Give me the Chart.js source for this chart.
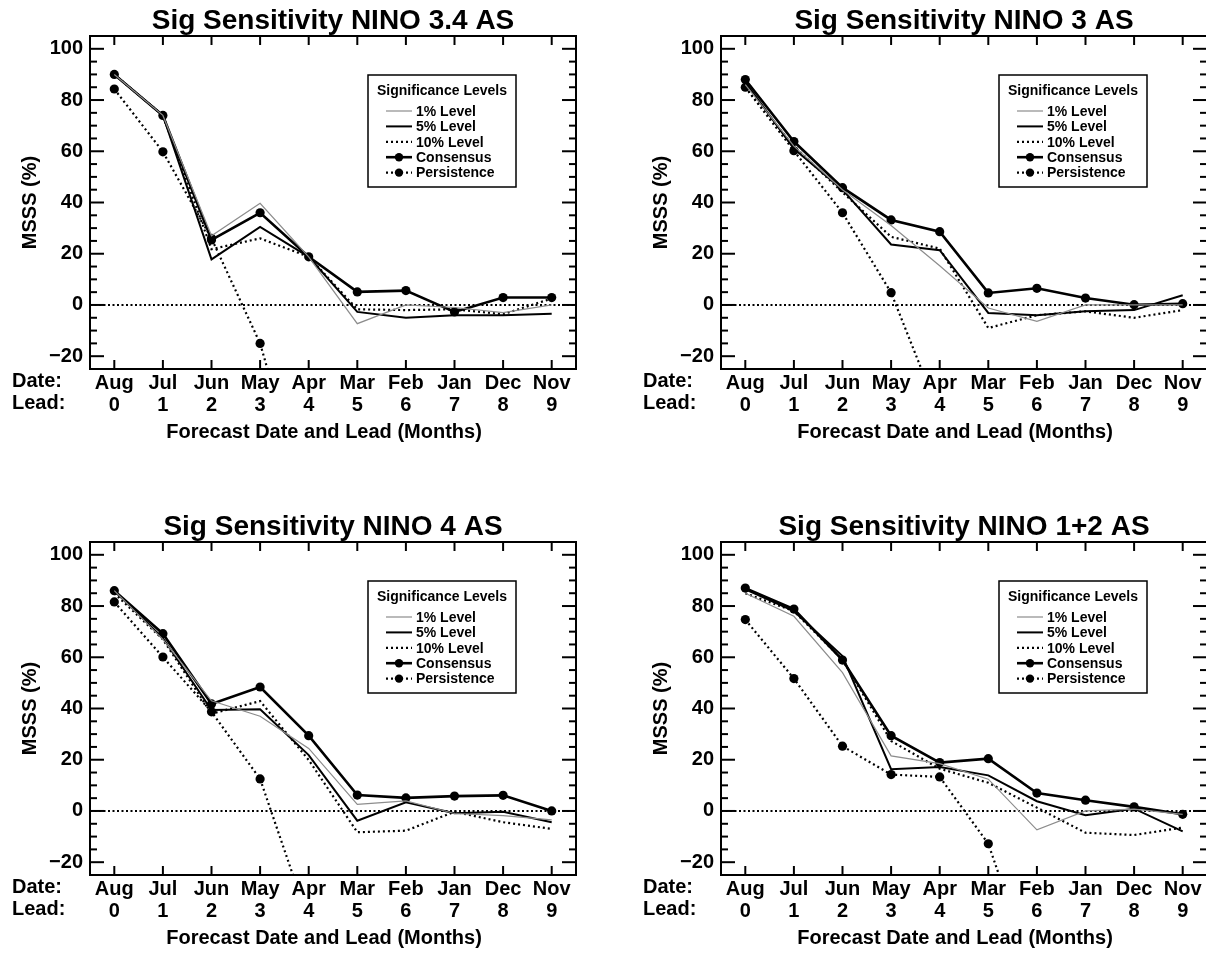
<!DOCTYPE html>
<html>
<head>
<meta charset="utf-8">
<title>Sig Sensitivity</title>
<script src="https://cdn.jsdelivr.net/npm/chart.js@4.4.1/dist/chart.umd.min.js"></script>
<style>
  body { margin: 0; background: #fff; overflow: hidden; width: 1206px; height: 953px; position: relative; }
  canvas { position: absolute; }
</style>
</head>
<body>
<canvas id="nino34" width="600" height="470" style="left:0;top:0"></canvas>
<canvas id="nino3" width="600" height="470" style="left:631px;top:0"></canvas>
<canvas id="nino4" width="600" height="470" style="left:0;top:506px"></canvas>
<canvas id="nino12" width="600" height="470" style="left:631px;top:506px"></canvas>
<script>
// Forecast date / lead categories
const months = ["Aug", "Jul", "Jun", "May", "Apr", "Mar", "Feb", "Jan", "Dec", "Nov"];
const leads = ["0", "1", "2", "3", "4", "5", "6", "7", "8", "9"];
const yTickValues = [-20, 0, 20, 40, 60, 80, 100];
const legendLabels = ["1% Level", "5% Level", "10% Level", "Consensus", "Persistence"];

// NINO 3.4
const nino34Level1 = [90, 74, 27, 39.7, 18.8, -7.3, 0, -1, -3, 0];
const nino34Level5 = [90, 74, 17.8, 30.5, 18.8, -2.7, -5, -4, -4, -3.4];
const nino34Level10 = [90, 74, 21.8, 26, 18.8, -1.7, -2, -1.7, -3.6, 2.5];
const nino34Consensus = [90, 74, 25.4, 36, 18.8, 5.1, 5.6, -2.7, 2.9, 2.9];
const nino34Persistence = [84.3, 59.8, 26, -15, -81, null, null, null, null, null];

// NINO 3
const nino3Level1 = [86, 62, 45, 31, 15.3, -1.2, -6.4, 0, 0, 0];
const nino3Level5 = [87, 61, 45, 23.6, 21.4, -3.1, -4, -2.5, -2, 3.8];
const nino3Level10 = [85, 62, 44, 26.6, 22, -9, -4, -2.5, -5, -2];
const nino3Consensus = [88, 63.8, 45.8, 33.2, 28.6, 4.7, 6.5, 2.7, 0.1, 0.5];
const nino3Persistence = [85, 60.2, 36, 4.8, -43, null, null, null, null, null];

// NINO 4
const nino4Level1 = [86, 67, 43, 37, 24.4, 2.6, 3.9, -1, -1.8, -3.5];
const nino4Level5 = [86, 67.5, 39.4, 39.7, 21.8, -3.8, 3.4, -0.9, -0.3, -4.4];
const nino4Level10 = [85, 67, 38, 42.9, 19.9, -8.3, -7.7, -0.3, -4.4, -7];
const nino4Consensus = [86, 69.2, 41.8, 48.4, 29.4, 6.2, 5.1, 5.8, 6.1, 0];
const nino4Persistence = [81.6, 60.1, 38.7, 12.5, -43, null, null, null, null, null];

// NINO 1+2
const nino12Level1 = [85, 76, 54, 21.5, 18.5, 12.4, -7.4, 0, 0.7, -1.3];
const nino12Level5 = [86.5, 78, 60.5, 16.3, 17.2, 13.9, 3.8, -1.7, 0.9, -8];
const nino12Level10 = [85, 78, 59, 27.3, 16.5, 11, 1.3, -8.5, -9.4, -6.5];
const nino12Consensus = [87, 78.8, 58.9, 29.4, 18.9, 20.4, 7, 4.2, 1.6, -1.3];
const nino12Persistence = [74.7, 51.7, 25.3, 14.2, 13.3, -12.8, -68, null, null, null];

const FONT = "'Liberation Sans', Arial, Helvetica, sans-serif";
Chart.defaults.font.family = FONT;
Chart.defaults.font.weight = "bold";
Chart.defaults.color = "#000";

// line styles shared by the chart and the legend box
const styles = [
  { color: "#8c8c8c", width: 1.2, dash: [], dot: false },
  { color: "#000", width: 2, dash: [], dot: false },
  { color: "#000", width: 2.2, dash: [2, 3], dot: false },
  { color: "#000", width: 2.6, dash: [], dot: true },
  { color: "#000", width: 2.2, dash: [2, 3], dot: true },
];

function line(ctx, x1, y1, x2, y2) {
  ctx.beginPath();
  ctx.moveTo(x1, y1);
  ctx.lineTo(x2, y2);
  ctx.stroke();
}

// frame with inward ticks, zero line, titles and the legend box
const sigFrame = {
  id: "sigFrame",
  beforeDatasetsDraw(chart) {
    const ctx = chart.ctx;
    const { left, right } = chart.chartArea;
    const py = chart.scales.y.getPixelForValue(0);
    ctx.save();
    ctx.strokeStyle = "#000";
    ctx.lineWidth = 2;
    ctx.setLineDash([2, 2.5]);
    line(ctx, left, py, right, py);
    ctx.restore();
  },
  afterDraw(chart, args, opts) {
    const ctx = chart.ctx;
    const { left, right, top, bottom } = chart.chartArea;
    const xs = chart.scales.x, ys = chart.scales.y;
    ctx.save();
    ctx.strokeStyle = "#000";
    ctx.fillStyle = "#000";
    ctx.lineWidth = 2;
    ctx.setLineDash([]);
    ctx.strokeRect(left, top, right - left, bottom - top);

    months.forEach((m, i) => {
      const px = xs.getPixelForValue(i);
      line(ctx, px, bottom, px, bottom - 9);
      line(ctx, px, top, px, top + 9);
    });
    for (let v = ys.min + 5; v < ys.max; v += 5) {
      const py = ys.getPixelForValue(v);
      const len = v % 20 === 0 ? 14 : 7;
      line(ctx, left, py, left + len, py);
      line(ctx, right, py, right - len, py);
    }

    // title
    const cx = (left + right) / 2;
    ctx.textAlign = "center";
    ctx.textBaseline = "alphabetic";
    ctx.font = "bold 28px " + FONT;
    ctx.fillText(opts.title, cx, 28.5);

    // axis titles
    ctx.font = "bold 20px " + FONT;
    ctx.textBaseline = "middle";
    ctx.fillText("Forecast Date and Lead (Months)", cx - 9, 432);
    ctx.save();
    ctx.translate(left - 60, (top + bottom) / 2);
    ctx.rotate(-Math.PI / 2);
    ctx.fillText("MSSS (%)", 0, 0);
    ctx.restore();

    ctx.font = "bold 20px " + FONT;
    ctx.textAlign = "left";
    ctx.fillText("Date:", left - 78, 381);
    ctx.fillText("Lead:", left - 78, 403);

    // legend box
    const bx = left + 278, by = top + 39, bw = 148, bh = 112;
    ctx.fillStyle = "#fff";
    ctx.fillRect(bx, by, bw, bh);
    ctx.lineWidth = 1.5;
    ctx.strokeRect(bx, by, bw, bh);
    ctx.fillStyle = "#000";
    ctx.font = "bold 14px " + FONT;
    ctx.textAlign = "center";
    ctx.fillText("Significance Levels", bx + bw / 2, by + 16);
    ctx.textAlign = "left";
    legendLabels.forEach((lab, i) => {
      const ly = by + 36 + i * 15.4;
      const s = styles[i];
      ctx.strokeStyle = s.color;
      ctx.lineWidth = s.width;
      ctx.setLineDash(s.dash);
      line(ctx, bx + 18, ly, bx + 44, ly);
      ctx.setLineDash([]);
      if (s.dot) {
        ctx.beginPath();
        ctx.arc(bx + 31, ly, 4.2, 0, Math.PI * 2);
        ctx.fill();
      }
      ctx.fillText(lab, bx + 48, ly + 1);
    });
    ctx.restore();
  },
};

function makeChart(id, title, series) {
  const datasets = series.map((data, i) => {
    const s = styles[i];
    return {
      label: legendLabels[i],
      data: data,
      borderColor: s.color,
      backgroundColor: s.color,
      borderWidth: s.width,
      borderDash: s.dash,
      pointRadius: s.dot ? 4.6 : 0,
      pointBackgroundColor: "#000",
      pointBorderWidth: 0,
      tension: 0,
      fill: false,
      spanGaps: false,
    };
  });

  new Chart(document.getElementById(id), {
    type: "line",
    data: {
      labels: months.map((m, i) => [m, leads[i]]),
      datasets: datasets,
    },
    options: {
      responsive: false,
      animation: false,
      devicePixelRatio: 1,
      layout: { padding: { top: 36, right: 24, left: 0, bottom: 0 } },
      plugins: {
        legend: { display: false },
        tooltip: { enabled: false },
        sigFrame: { title: title },
      },
      scales: {
        x: {
          type: "category",
          offset: true,
          grid: { display: false, drawTicks: false },
          border: { display: false },
          ticks: {
            padding: 3,
            maxRotation: 0,
            autoSkip: false,
            font: { size: 20, weight: "bold", lineHeight: 1.1 },
            color: "#000",
          },
          afterFit(scale) { scale.height = 101; },
        },
        y: {
          min: -25,
          max: 105,
          grid: { display: false, drawTicks: false },
          border: { display: false },
          afterBuildTicks(scale) {
            scale.ticks = yTickValues.map(v => ({ value: v }));
          },
          ticks: {
            padding: 7,
            font: { size: 20, weight: "bold" },
            color: "#000",
            callback: v => String(v).replace("-", "\u2212"),
          },
          afterFit(scale) { scale.width = 90; },
        },
      },
    },
    plugins: [sigFrame],
  });
}

makeChart("nino34", "Sig Sensitivity NINO 3.4 AS",
  [nino34Level1, nino34Level5, nino34Level10, nino34Consensus, nino34Persistence]);
makeChart("nino3", "Sig Sensitivity NINO 3 AS",
  [nino3Level1, nino3Level5, nino3Level10, nino3Consensus, nino3Persistence]);
makeChart("nino4", "Sig Sensitivity NINO 4 AS",
  [nino4Level1, nino4Level5, nino4Level10, nino4Consensus, nino4Persistence]);
makeChart("nino12", "Sig Sensitivity NINO 1+2 AS",
  [nino12Level1, nino12Level5, nino12Level10, nino12Consensus, nino12Persistence]);
</script>
</body>
</html>
